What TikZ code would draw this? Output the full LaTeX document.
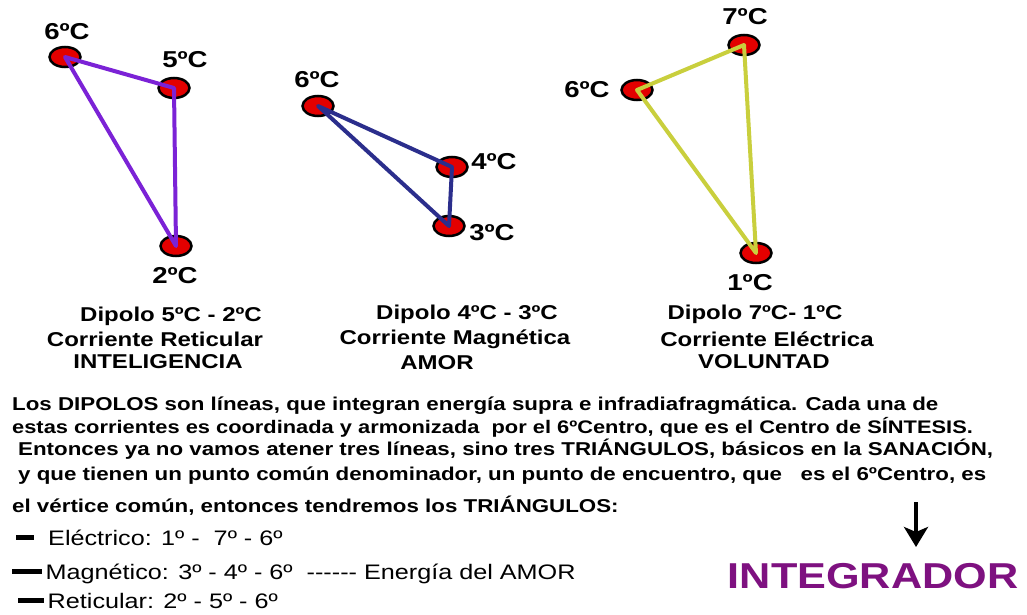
\documentclass[tikz,border=0pt]{standalone}
\usepackage{fontspec}
\setmainfont[FakeStretch=1.2]{Liberation Sans}
\usetikzlibrary{shapes.geometric,arrows.meta}
\definecolor{retcol}{HTML}{7B22D6}
\definecolor{magcol}{HTML}{2B2E8C}
\definecolor{elecol}{HTML}{C9CF3D}
\definecolor{dotred}{HTML}{E30000}
\definecolor{intcol}{HTML}{7E1180}
\newcommand{\raya}[1]{\rule[0.28em]{#1}{4.5pt}}
\tikzset{
  centro/.style={ellipse, draw=black, line width=2.5pt, fill=dotred,
    minimum width=31pt, minimum height=20pt, inner sep=0pt},
  grado/.style={font=\bfseries\fontsize{23}{25}\selectfont, inner sep=0pt},
  leyenda/.style={font=\bfseries\fontsize{20}{22}\selectfont, inner sep=0pt},
  texto/.style={font=\bfseries\fontsize{18.6}{20}\selectfont, anchor=west, inner sep=0pt},
  lista/.style={font=\fontsize{21}{23}\selectfont, anchor=west, inner sep=0pt},
  lado/.style={line width=4pt, line join=round},
}
\begin{document}
\begin{tikzpicture}[x=1pt, y=-1pt]
  \useasboundingbox[fill=white] (0,0) rectangle (1027,615);

  % Triangulo reticular
  \node[centro] (r6) at (65,57) {};
  \node[centro] (r5) at (174,88) {};
  \node[centro] (r2) at (176,246) {};
  \draw[lado, retcol] (r6.center) -- (r5.center) -- (r2.center) -- cycle;
  \node[grado] (lr6) at (67,32) {6ºC};
  \node[grado] (lr5) at (185,60) {5ºC};
  \node[grado] (lr2) at (175,276) {2ºC};

  % Triangulo magnetico
  \node[centro] (m6) at (318,106) {};
  \node[centro] (m4) at (452,167) {};
  \node[centro] (m3) at (449,226) {};
  \draw[lado, magcol] (m6.center) -- (m4.center) -- (m3.center) -- cycle;
  \node[grado] (lm6) at (317,80) {6ºC};
  \node[grado] (lm4) at (494,162) {4ºC};
  \node[grado] (lm3) at (492,233) {3ºC};

  % Triangulo electrico
  \node[centro] (e7) at (744,45) {};
  \node[centro] (e6) at (637,90) {};
  \node[centro] (e1) at (756,253) {};
  \draw[lado, elecol] (e6.center) -- (e7.center) -- (e1.center) -- cycle;
  \node[grado] (le7) at (745,17) {7ºC};
  \node[grado] (le6) at (587,90) {6ºC};
  \node[grado] (le1) at (750,283) {1ºC};

  % Leyendas
  \node[leyenda] (dr) at (171,316) {Dipolo 5ºC - 2ºC};
  \node[leyenda] (cr) at (155,339) {Corriente Reticular};
  \node[leyenda] (vr) at (158,362) {INTELIGENCIA};
  \node[leyenda] (dm) at (467,314) {Dipolo 4ºC - 3ºC};
  \node[leyenda] (cm) at (455,339) {Corriente Magnética};
  \node[leyenda] (vm) at (437,363) {AMOR};
  \node[leyenda] (de) at (755,314) {Dipolo 7ºC- 1ºC};
  \node[leyenda] (ce) at (767,339) {Corriente Eléctrica};
  \node[leyenda] (ve) at (764,362) {VOLUNTAD};

  % Texto
  \node[texto] (t1) at (12,406) {Los DIPOLOS son líneas, que integran energía supra e infradiafragmática. Cada una de};
  \node[texto, font=\bfseries\fontsize{18.2}{20}\selectfont] (t2) at (12,427) {estas corrientes es coordinada y armonizada\ \ por el 6ºCentro, que es el Centro de SÍNTESIS.};
  \node[texto] (t3) at (18,449) {Entonces ya no vamos atener tres líneas, sino tres TRIÁNGULOS, básicos en la SANACIÓN,};
  \node[texto] (t4) at (18,476) {y que tienen un punto común denominador, un punto de encuentro, que\ \ \ es el 6ºCentro, es};
  \node[texto] (t5) at (12,506) {el vértice común, entonces tendremos los TRIÁNGULOS:};

  % Lista
  \node[lista] (l1) at (16,538) {\raya{18pt}\ \ Eléctrico: 1º -\ \ 7º - 6º};
  \node[lista] (l2) at (12,574) {\raya{30pt}\,Magnético: 3º - 4º - 6º\ \ -{}-{}-{}-{}-{}- Energía del AMOR};
  \node[lista] (l3) at (18,601) {\raya{26pt}\,Reticular: 2º - 5º - 6º};

  % Integrador
  \coordinate (flecha) at (916,502);
  \coordinate (punta) at (916,547);
  \node[font=\bfseries\fontsize{36}{38}\selectfont, text=intcol, inner sep=0pt] (integ) at (873,576) {INTEGRADOR};
  \draw[line width=4pt, -{Stealth[length=20pt, width=24pt, inset=5pt]}] (flecha) -- (punta);
\end{tikzpicture}
\end{document}
